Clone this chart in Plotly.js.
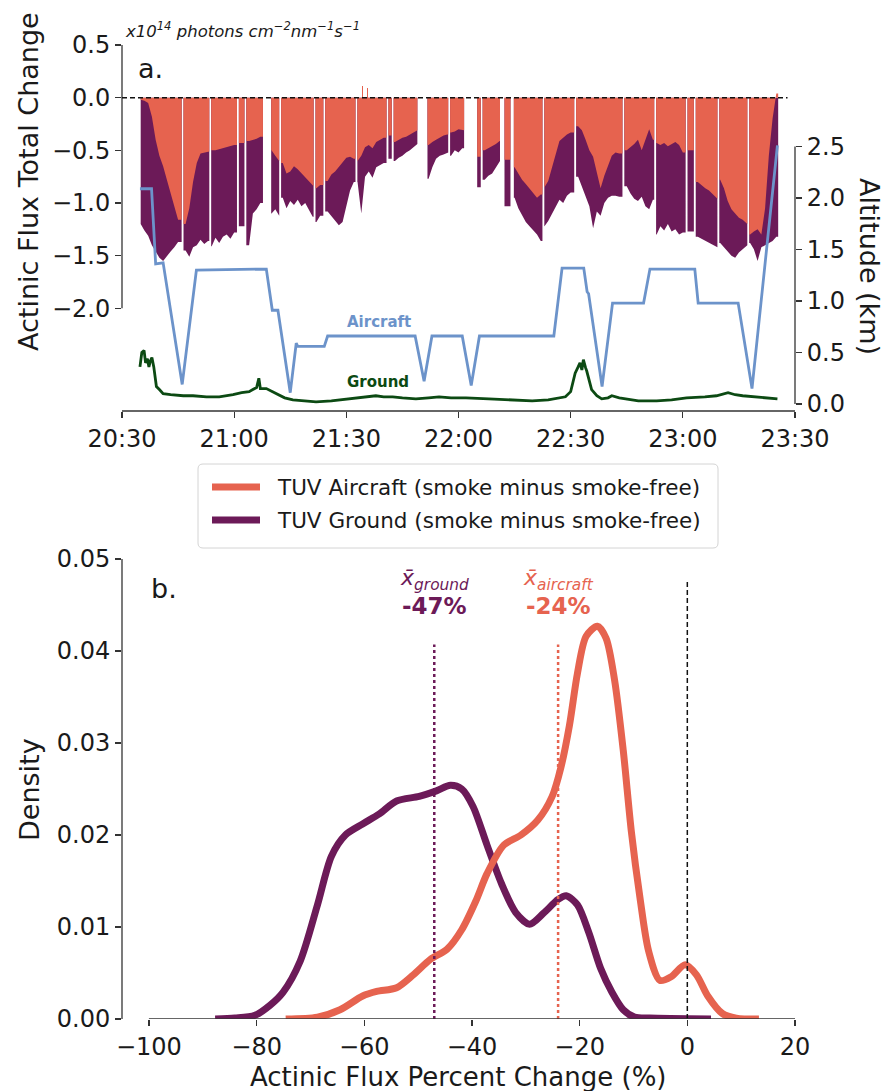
<!DOCTYPE html>
<html>
<head>
<meta charset="utf-8">
<script src="https://cdn.plot.ly/plotly-3.0.1.min.js"></script>
<style>html,body{margin:0;padding:0;background:#fff;}</style>
</head>
<body>
<div id="chart" style="width:886px;height:1091px;"></div>
<script>
// ---------- Panel a: actinic flux change along the flight (minutes after 20:30) ----------
const fluxStartMin = 5; // first minute of the 1-minute flux grid

// TUV aircraft, smoke minus smoke-free (x10^14 photons cm-2 nm-1 s-1)
const aircraftFlux = [
  -0.02,-0.03,-0.05,-0.18,-0.40,-0.55,-0.65,-0.78,-0.90,-1.03,-1.16, null,
  -1.20,-1.05,-0.80,-0.62,-0.53,-0.52,-0.51,-0.50,-0.50,-0.49,-0.48,-0.47,-0.46,-0.45, null,
  -0.43, null,-0.41,-0.40,-0.39,-0.37, null, null,
  -0.50,-0.55,-0.60,-0.62,-0.72,-0.70,-0.65,-0.68,-0.72,-0.76,-0.80,-0.84,-0.86,-0.83, null,
  -0.79,-0.73,-0.70,-0.66,-0.62,-0.57,-0.56,-0.58,-0.60,-0.55,-0.47,-0.45,-0.48,-0.42,-0.40,-0.38, null,
  -0.36,-0.42,-0.40,-0.38,-0.37,-0.35,-0.33,-0.31, null, null,
  -0.45,-0.42,-0.40,-0.38,-0.36,-0.35,-0.33,-0.32,-0.30,-0.31, null, null, null,
  -0.56, null,-0.50,-0.48,-0.46,-0.44,-0.41, null,-0.59, null,
  -0.66,-0.72,-0.78,-0.82,-0.86,-0.90,-0.95,-0.92,-0.85,-0.79,-0.66,-0.52,-0.41,-0.38,-0.35,-0.33, null,
  -0.27,-0.31,-0.40,-0.50,-0.56,-0.72,-0.86,-0.74,-0.64,-0.55,-0.52,-0.53, null,
  -0.50,-0.47,-0.44,-0.40,-0.50,-0.40,-0.30,-0.40,-0.43,-0.45,-0.43,-0.46,-0.44,-0.42,-0.45,-0.52, null,
  -0.50, null,-0.80,-0.83,-0.86,-0.88,-0.92,-0.96,-0.78,-0.86,-0.98,-1.06,-1.10,-1.14,-1.16,-1.20,
  -1.30,-1.27,-1.25,-1.30,-1.05,-0.55,-0.20, 0.04
];

// TUV ground, smoke minus smoke-free (x10^14 photons cm-2 nm-1 s-1)
const groundFlux = [
  -1.20,-1.26,-1.31,-1.40,-1.46,-1.52,-1.55,-1.50,-1.46,-1.42,-1.37, null,
  -1.45,-1.51,-1.42,-1.40,-1.35,-1.39,-1.36,-1.41,-1.33,-1.38,-1.32,-1.30,-1.34,-1.28, null,
  -1.22, null,-1.40,-1.10,-1.06,-1.00, null, null,
  -1.10,-1.06,-1.12,-0.95,-1.05,-0.98,-1.02,-0.97,-1.03,-1.00,-1.07,-1.13,-1.18,-1.12, null,
  -1.08,-1.12,-1.16,-1.21,-1.18,-1.02,-0.88,-0.80,-0.80,-1.10,-0.75,-0.70,-0.76,-0.66,-0.64,-0.62, null,
  -0.58,-0.60,-0.57,-0.55,-0.52,-0.50,-0.47,-0.44, null, null,
  -0.77,-0.66,-0.58,-0.55,-0.54,-0.52,-0.55,-0.50,-0.52,-0.48, null, null, null,
  -0.85, null,-0.78,-0.74,-0.72,-0.66,-0.60, null,-1.03, null,
  -0.95,-1.05,-1.12,-1.18,-1.22,-1.26,-1.30,-1.36,-1.22,-1.17,-1.10,-1.03,-0.97,-1.00,-0.93,-0.90, null,
  -0.75,-0.84,-0.94,-1.03,-1.24,-1.08,-1.12,-1.00,-0.95,-0.93,-0.93,-0.94, null,
  -0.84,-0.91,-0.96,-0.98,-0.94,-1.03,-1.06,-0.97,-1.30,-1.22,-1.26,-1.20,-1.27,-1.25,-1.30,-1.28, null,
  -1.27, null,-1.32,-1.34,-1.36,-1.38,-1.40,-1.42,-1.38,-1.42,-1.46,-1.50,-1.52,-1.47,-1.44,-1.40,
  -1.38,-1.44,-1.55,-1.42,-1.40,-1.38,-1.36,-1.32
];

// continuous stretches of flux data (minutes after 20:30)
const segStart = [5.0, 16.45, 23.85, 31.25, 33.25, 39.9, 42.55, 51.75, 54.35, 62.95, 71.25, 72.65, 81.7,
                  87.75, 95.0, 96.45, 102.3, 104.8, 112.95, 121.45, 134.35, 142.85, 151.25, 153.45, 159.75, 167.75];
const segEnd   = [15.95, 23.35, 30.75, 32.75, 37.7, 42.05, 51.25, 53.85, 62.45, 70.75, 72.15, 79.0, 87.25,
                  91.5, 95.95, 101.1, 103.9, 112.45, 120.95, 133.85, 142.35, 150.75, 152.95, 159.25, 167.25, 175.5];

// brief positive aircraft excursions
const aircraftSpikeTime = [64.4, 65.7];
const aircraftSpikeVal = [0.11, 0.09];

// aircraft altitude (km)
const altTime = [4.8, 7.9, 9.0, 11.0, 16.1, 19.9, 38.6, 40.2, 41.7, 45.0, 46.6, 47.0, 54.1, 55.0, 78.4, 80.8, 82.9,
                 91.0, 93.4, 95.6, 115.5, 117.7, 123.5, 124.4, 124.8, 128.4, 131.2, 139.5, 141.2, 153.2, 154.1,
                 164.8, 168.5, 175.3];
const altKm   = [2.09, 2.09, 1.36, 1.37, 0.19, 1.30, 1.31, 0.91, 0.91, 0.11, 0.59, 0.56, 0.56, 0.66, 0.66, 0.22, 0.66,
                 0.66, 0.18, 0.66, 0.66, 1.32, 1.32, 1.09, 1.07, 0.17, 0.98, 0.98, 1.31, 1.31, 0.98,
                 0.98, 0.15, 2.51];

// ground site trace on the altitude axis (km)
const gndTime = [4.8, 5.3, 5.9, 6.3, 6.8, 7.2, 7.6, 8.0, 8.5, 9.2, 10, 11, 13, 16.4, 19, 22.6, 26, 29.7, 32, 34, 35, 36,
                 36.6, 37, 38.6, 41.2, 43.5, 45.7, 49, 51.9, 56, 60.8, 64, 67.9, 70, 72.4, 75, 78.6, 82, 84.8, 88, 92,
                 98.1, 104, 109.7, 114, 118.6, 120, 121.2, 122, 122.5, 123, 123.4, 124, 124.3, 125.6, 127, 128.3,
                 130, 131, 133, 138.1, 143, 147, 151, 155.9, 159, 162.1, 164, 166, 169.2, 172, 175.3];
const gndKm   = [0.36, 0.50, 0.52, 0.40, 0.44, 0.36, 0.42, 0.45, 0.36, 0.17, 0.14, 0.10, 0.09, 0.08, 0.08, 0.07, 0.07,
                 0.09, 0.11, 0.12, 0.14, 0.16, 0.25, 0.15, 0.15, 0.10, 0.06, 0.04, 0.03, 0.02, 0.03, 0.05, 0.06, 0.08,
                 0.07, 0.07, 0.06, 0.05, 0.06, 0.07, 0.06, 0.06, 0.05, 0.04, 0.03, 0.04, 0.07, 0.12, 0.30, 0.36, 0.40,
                 0.33, 0.43, 0.35, 0.32, 0.14, 0.08, 0.05, 0.06, 0.08, 0.06, 0.03, 0.03, 0.04, 0.06, 0.07, 0.08, 0.11,
                 0.09, 0.08, 0.07, 0.06, 0.05];

const timeTickVals = [0, 30, 60, 90, 120, 150, 180];
const timeTickLabels = ['20:30', '21:00', '21:30', '22:00', '22:30', '23:00', '23:30'];

// ---------- Panel b: density of the percent change ----------
const kdeGroundX = [-87.7, -84, -80.3, -77.5, -75.1, -71.9, -68.7, -66.1, -63.5, -60.3, -57.2, -54.0, -49.8, -46.6,
                    -44.0, -41.9, -39.8, -37.2, -34.5, -31.9, -29.3, -26.7, -24.0, -22.5, -20.4, -18.3, -16.1,
                    -14.0, -11.9, -9.8, -7.0, 4.4];
const kdeGroundY = [0, 0.0001, 0.0004, 0.0015, 0.0029, 0.0063, 0.0124, 0.0177, 0.0200, 0.0212, 0.0223, 0.0237,
                    0.0242, 0.0248, 0.0254, 0.0250, 0.0231, 0.0189, 0.0147, 0.0116, 0.0103, 0.0115, 0.0130, 0.0134,
                    0.0124, 0.0094, 0.0055, 0.0029, 0.0010, 0.0002, 0.0001, 0];
const kdeAircraftX = [-74.6, -68.7, -64.5, -60.3, -57.7, -54.0, -50.9, -47.7, -44.6, -41.9, -39.3, -37.2, -34.1,
                      -30.9, -27.8, -25.1, -23.5, -21.9, -20.4, -18.8, -16.7, -15.1, -13.5, -11.9, -10.4, -8.8,
                      -7.2, -5.1, -3.0, -0.4, 1.7, 3.8, 6.5, 9.1, 13.3];
const kdeAircraftY = [0, 0.0002, 0.0010, 0.0025, 0.0030, 0.0034, 0.0048, 0.0065, 0.0076, 0.0097, 0.0128, 0.0158,
                      0.0189, 0.0200, 0.0216, 0.0242, 0.0273, 0.0319, 0.0376, 0.0416, 0.0427, 0.0414, 0.0368,
                      0.0292, 0.0204, 0.0132, 0.0074, 0.0042, 0.0046, 0.0059, 0.0048, 0.0025, 0.0006, 0.0001, 0];
const groundMean = -47;
const aircraftMean = -24;
const meanLineTop = 0.0407;
const zeroLineTop = 0.0475;

const seriesNames = ['TUV Aircraft (smoke minus smoke-free)', 'TUV Ground (smoke minus smoke-free)'];

// ---------- styling ----------
const ORANGE = '#E6634F';
const PURPLE = '#6C1A58';
const BLUE = '#6C93CA';
const GREEN = '#0C4A13';
const AXIS = '#333333';
const FONT = 'DejaVu Sans, Verdana, sans-serif';

// one closed polygon (down to zero) per recorded stretch; stretches are split by gaps
function segmentPolygons(vals) {
  const x = [], y = [];
  segStart.forEach((s, i) => {
    const e = segEnd[i];
    const pts = [];
    vals.forEach((v, k) => {
      const t = fluxStartMin + k;
      if (v !== null && t >= s - 1e-9 && t <= e + 1e-9) pts.push([t, v]);
    });
    if (!pts.length) return;
    x.push(s); y.push(0);
    x.push(s); y.push(pts[0][1]);
    pts.forEach(p => { x.push(p[0]); y.push(p[1]); });
    x.push(e); y.push(pts[pts.length - 1][1]);
    x.push(e); y.push(0);
    x.push(null); y.push(null);
  });
  return {x, y};
}

const gPoly = segmentPolygons(groundFlux);
const aPoly = segmentPolygons(aircraftFlux);

const traces = [
  {type: 'scatter', mode: 'lines', x: gPoly.x, y: gPoly.y, fill: 'toself', fillcolor: PURPLE,
   line: {width: 0, color: PURPLE}, xaxis: 'x', yaxis: 'y', showlegend: false, hoverinfo: 'skip'},
  {type: 'scatter', mode: 'lines', x: aPoly.x, y: aPoly.y, fill: 'toself', fillcolor: ORANGE,
   line: {width: 0, color: ORANGE}, xaxis: 'x', yaxis: 'y', showlegend: false, hoverinfo: 'skip'},
  {type: 'bar', x: aircraftSpikeTime, y: aircraftSpikeVal, width: 0.3, marker: {color: ORANGE, line: {width: 0}},
   xaxis: 'x', yaxis: 'y', showlegend: false, hoverinfo: 'skip'},
  {type: 'scatter', mode: 'lines', x: altTime, y: altKm, line: {color: BLUE, width: 2.8},
   xaxis: 'x', yaxis: 'y2', showlegend: false, hoverinfo: 'skip'},
  {type: 'scatter', mode: 'lines', x: gndTime, y: gndKm, line: {color: GREEN, width: 2.8},
   xaxis: 'x', yaxis: 'y2', showlegend: false, hoverinfo: 'skip'},
  // panel b densities
  {type: 'scatter', mode: 'lines', x: kdeGroundX, y: kdeGroundY, line: {color: PURPLE, width: 7, shape: 'spline', smoothing: 0.8},
   xaxis: 'x2', yaxis: 'y3', name: seriesNames[1], showlegend: false, hoverinfo: 'skip'},
  {type: 'scatter', mode: 'lines', x: kdeAircraftX, y: kdeAircraftY, line: {color: ORANGE, width: 7, shape: 'spline', smoothing: 0.8},
   xaxis: 'x2', yaxis: 'y3', name: seriesNames[0], showlegend: false, hoverinfo: 'skip'},
  // mean markers
  {type: 'scatter', mode: 'lines', x: [groundMean, groundMean], y: [0, meanLineTop], line: {color: PURPLE, width: 2.5, dash: 'dot'},
   xaxis: 'x2', yaxis: 'y3', showlegend: false, hoverinfo: 'skip'},
  {type: 'scatter', mode: 'lines', x: [aircraftMean, aircraftMean], y: [0, meanLineTop], line: {color: ORANGE, width: 2.5, dash: 'dot'},
   xaxis: 'x2', yaxis: 'y3', showlegend: false, hoverinfo: 'skip'},
  {type: 'scatter', mode: 'lines', x: [0, 0], y: [0, zeroLineTop], line: {color: '#111', width: 1.5, dash: '5px,3px'},
   xaxis: 'x2', yaxis: 'y3', showlegend: false, hoverinfo: 'skip'}
];

// plot geometry helpers (pixel -> paper)
const W = 886, H = 1091, ML = 122, MR = 91, MT = 40, MB = 72;
const PW = W - ML - MR, PH = H - MT - MB;
const px = v => (v - ML) / PW;
const py = v => (H - MB - v) / PH;

const tickFont = {family: FONT, size: 24, color: '#1a1a1a'};
const baseAxis = {showgrid: false, zeroline: false, showline: false, ticks: 'outside', ticklen: 6,
                  tickwidth: 1.3, tickcolor: AXIS, tickfont: tickFont};

// legend box with rounded corners
const lx0 = px(198), lx1 = px(718), ly0 = py(548), ly1 = py(464);
const rx = 5 / PW, ry = 5 / PH;
const legendPath = `M${lx0 + rx},${ly0} L${lx1 - rx},${ly0} Q${lx1},${ly0} ${lx1},${ly0 + ry} L${lx1},${ly1 - ry} ` +
  `Q${lx1},${ly1} ${lx1 - rx},${ly1} L${lx0 + rx},${ly1} Q${lx0},${ly1} ${lx0},${ly1 - ry} L${lx0},${ly0 + ry} ` +
  `Q${lx0},${ly0} ${lx0 + rx},${ly0} Z`;

const shapes = [
  // panel a spines
  {type: 'line', xref: 'paper', x0: 0, x1: 0, yref: 'y', y0: -2, y1: 0.5, line: {color: AXIS, width: 1.3}},
  {type: 'line', xref: 'x', x0: 0, x1: 180, yref: 'y domain', y0: 0, y1: 0, line: {color: AXIS, width: 1.3}},
  {type: 'line', xref: 'paper', x0: 1, x1: 1, yref: 'y2', y0: 0, y1: 2.5, line: {color: AXIS, width: 1.3}},
  {type: 'line', xref: 'x', x0: 0, x1: 178, yref: 'y', y0: 0, y1: 0, line: {color: '#111', width: 1.4, dash: '5px,3px'}},
  // panel b spines
  {type: 'line', xref: 'paper', x0: 0, x1: 0, yref: 'y3', y0: 0, y1: 0.05, line: {color: AXIS, width: 1.3}},
  {type: 'line', xref: 'x2', x0: -100, x1: 20, yref: 'y3', y0: 0, y1: 0, line: {color: AXIS, width: 1.3}},
  // legend
  {type: 'path', xref: 'paper', yref: 'paper', path: legendPath, fillcolor: '#fff', line: {color: '#d4d4d4', width: 1}},
  {type: 'line', xref: 'paper', yref: 'paper', x0: px(212), x1: px(260), y0: py(487), y1: py(487), line: {color: ORANGE, width: 7}},
  {type: 'line', xref: 'paper', yref: 'paper', x0: px(212), x1: px(260), y0: py(520), y1: py(520), line: {color: PURPLE, width: 7}}
];

const annotations = [
  {xref: 'paper', yref: 'paper', x: px(28), y: py(182), text: 'Actinic Flux Total Change', textangle: -90,
   showarrow: false, xanchor: 'center', yanchor: 'middle', font: {family: FONT, size: 27, color: '#1a1a1a'}},
  {xref: 'paper', yref: 'paper', x: px(870), y: py(266), text: 'Altitude (km)', textangle: 90,
   showarrow: false, xanchor: 'center', yanchor: 'middle', font: {family: FONT, size: 27, color: '#1a1a1a'}},
  {xref: 'paper', yref: 'paper', x: px(123), y: py(30),
   text: '<i>x10<sup>14</sup> photons cm<sup>−2</sup>nm<sup>−1</sup>s<sup>−1</sup></i>',
   showarrow: false, xanchor: 'left', yanchor: 'middle', font: {family: FONT, size: 16.5, color: '#1a1a1a'}},
  {xref: 'paper', yref: 'paper', x: px(136), y: py(68), text: 'a.', showarrow: false, xanchor: 'left', yanchor: 'middle',
   font: {family: FONT, size: 27, color: '#1a1a1a'}},
  {xref: 'x', yref: 'y2', x: 68.7, y: 0.80, text: '<b>Aircraft</b>', showarrow: false, xanchor: 'center', yanchor: 'middle',
   font: {family: FONT, size: 15, color: BLUE}},
  {xref: 'x', yref: 'y2', x: 68.4, y: 0.21, text: '<b>Ground</b>', showarrow: false, xanchor: 'center', yanchor: 'middle',
   font: {family: FONT, size: 15, color: GREEN}},
  // legend labels
  {xref: 'paper', yref: 'paper', x: px(275), y: py(487), text: seriesNames[0], showarrow: false, xanchor: 'left', yanchor: 'middle',
   font: {family: FONT, size: 21.5, color: '#1a1a1a'}},
  {xref: 'paper', yref: 'paper', x: px(275), y: py(520), text: seriesNames[1], showarrow: false, xanchor: 'left', yanchor: 'middle',
   font: {family: FONT, size: 21.5, color: '#1a1a1a'}},
  // panel b
  {xref: 'paper', yref: 'paper', x: px(30), y: py(790), text: 'Density', textangle: -90,
   showarrow: false, xanchor: 'center', yanchor: 'middle', font: {family: FONT, size: 27, color: '#1a1a1a'}},
  {xref: 'paper', yref: 'paper', x: 0.5, y: py(1077), text: 'Actinic Flux Percent Change (%)',
   showarrow: false, xanchor: 'center', yanchor: 'middle', font: {family: FONT, size: 26, color: '#1a1a1a'}},
  {xref: 'paper', yref: 'paper', x: px(149), y: py(588), text: 'b.', showarrow: false, xanchor: 'left', yanchor: 'middle',
   font: {family: FONT, size: 27, color: '#1a1a1a'}},
  {xref: 'x2', yref: 'paper', x: groundMean, y: py(580), text: '<i>x\u0304<sub>ground</sub></i>', showarrow: false,
   xanchor: 'center', yanchor: 'middle', font: {family: FONT, size: 22, color: PURPLE}},
  {xref: 'x2', yref: 'paper', x: groundMean, y: py(606), text: `<b>${groundMean}%</b>`, showarrow: false,
   xanchor: 'center', yanchor: 'middle', font: {family: FONT, size: 23, color: PURPLE}},
  {xref: 'x2', yref: 'paper', x: aircraftMean, y: py(580), text: '<i>x\u0304<sub>aircraft</sub></i>', showarrow: false,
   xanchor: 'center', yanchor: 'middle', font: {family: FONT, size: 22, color: ORANGE}},
  {xref: 'x2', yref: 'paper', x: aircraftMean, y: py(606), text: `<b>${aircraftMean}%</b>`, showarrow: false,
   xanchor: 'center', yanchor: 'middle', font: {family: FONT, size: 23, color: ORANGE}}
];

const layout = {
  width: W, height: H,
  margin: {l: ML, r: MR, t: MT, b: MB, pad: 0},
  paper_bgcolor: '#ffffff', plot_bgcolor: 'rgba(0,0,0,0)',
  font: {family: FONT, size: 24, color: '#1a1a1a'},
  showlegend: false,
  bargap: 0,
  xaxis: Object.assign({}, baseAxis, {domain: [0, 1], range: [0, 180], anchor: 'y',
    tickmode: 'array', tickvals: timeTickVals, ticktext: timeTickLabels}),
  yaxis: Object.assign({}, baseAxis, {domain: [py(411), 1], range: [-2.975, 0.548], anchor: 'x',
    tickmode: 'array', tickvals: [-2, -1.5, -1, -0.5, 0, 0.5], tickformat: '.1f'}),
  yaxis2: Object.assign({}, baseAxis, {overlaying: 'y', side: 'right', anchor: 'x', range: [-0.068, 3.534],
    tickmode: 'array', tickvals: [0, 0.5, 1, 1.5, 2, 2.5], tickformat: '.1f'}),
  xaxis2: Object.assign({}, baseAxis, {domain: [0, 1], range: [-105, 20], anchor: 'y3',
    tickmode: 'array', tickvals: [-100, -80, -60, -40, -20, 0, 20], tickformat: '.0f'}),
  yaxis3: Object.assign({}, baseAxis, {domain: [0, py(559)], range: [0, 0.05], anchor: 'x2',
    tickmode: 'array', tickvals: [0, 0.01, 0.02, 0.03, 0.04, 0.05], tickformat: '.2f'}),
  shapes: shapes,
  annotations: annotations
};

Plotly.newPlot('chart', traces, layout, {staticPlot: true, displayModeBar: false});
</script>
</body>
</html>
